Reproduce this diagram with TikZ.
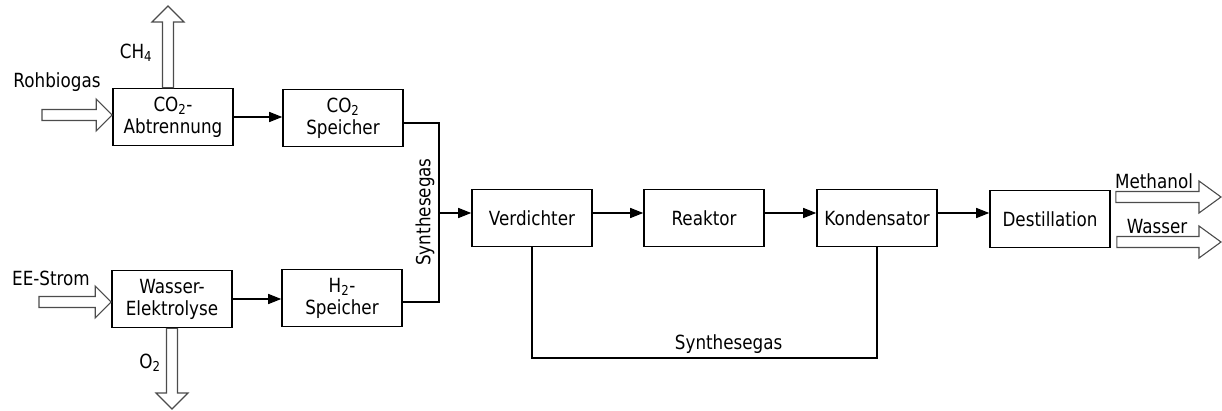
\documentclass[tikz,border=0pt]{standalone}
\usepackage{fontspec}
\setmainfont{DejaVu Sans}[FakeStretch=0.86]
\usetikzlibrary{arrows.meta,calc}
\tikzset{blk/.style={draw,line width=1.6pt,minimum width=120pt,minimum height=57pt,inner sep=0pt,align=center},
 wire/.style={line width=1.3pt},arr/.style={wire,-{Triangle[length=13pt,width=10pt]}},
 fat/.style={draw=black!70,line width=1.1pt,fill=white,line join=miter},
 every node/.style={font=\fontsize{19.5}{22}\selectfont}}
% hollow block arrow from #2 to #3, #1 = head length
\newcommand{\fatarrow}[3][16pt]{\path (#2) coordinate (fa) (#3) coordinate (fb) ($(fb)!#1!(fa)$) coordinate (fc);
 \draw[fat] ($(fa)!5.5pt!90:(fb)$)--($(fc)!5.5pt!90:(fb)$)--($(fc)!16pt!90:(fb)$)--(fb)--($(fc)!16pt!-90:(fb)$)--($(fc)!5.5pt!-90:(fb)$)--($(fa)!5.5pt!-90:(fb)$)--cycle;}
\begin{document}
\begin{tikzpicture}[x=1pt,y=-1pt]
\useasboundingbox (0,0) rectangle (1222,410);
% blocks
\node[blk] (ab) at (173,117) {CO\textsubscript{2}-\\Abtrennung};\node[blk] (cs) at (343,118) {CO\textsubscript{2}\\Speicher};
\node[blk] (we) at (172,299) {Wasser-\\Elektrolyse};\node[blk] (hs) at (342,298) {H\textsubscript{2}-\\Speicher};
\node[blk] (vd) at (532,218) {Verdichter};\node[blk] (rk) at (704,218) {Reaktor};
\node[blk] (kd) at (877,218) {Kondensator};\node[blk] (ds) at (1050,219) {Destillation};
% streams in and out
\coordinate (rohin) at (42,115);\coordinate (ch4out) at (168,6);\coordinate (eein) at (39,302);\coordinate (o2out) at (172,409);
\coordinate (meout) at (1221,197);\coordinate (wout) at (1221,242);
\coordinate (mein) at ($(ds.east|-meout)+(5,0)$);\coordinate (win) at ($(ds.east|-wout)+(6,0)$);
\fatarrow{rohin}{ab.west|-rohin}\fatarrow{ab.north-|ch4out}{ch4out}
\fatarrow{eein}{we.west|-eein}\fatarrow{we.south-|o2out}{o2out}
\fatarrow[22pt]{mein}{meout}\fatarrow[22pt]{win}{wout}
\node (rb) at (57,82) {Rohbiogas};\node (ch) at (136,53) {CH\textsubscript{4}};
\node (ee) at (51,278) {EE-Strom};\node (o2) at (150,363) {O\textsubscript{2}};
\node (me) at (1154,181) {Methanol};\node (wa) at (1157,227) {Wasser};
% connectors
\draw[arr] (ab.east)--(ab.east-|cs.west);\draw[arr] (we.east)--(we.east-|hs.west);
\coordinate (sj) at (439,213);
\draw[wire] ([yshift=-5pt]cs.east) -| (sj) |- ([yshift=-4pt]hs.east);
\node[rotate=90] (sg) at (425,212) {Synthesegas};
\draw[arr] (sj)--(sj-|vd.west);\draw[arr] (vd.east|-sj)--(rk.west|-sj);
\draw[arr] (rk.east|-sj)--(kd.west|-sj);\draw[arr] (kd.east|-sj)--(ds.west|-sj);
\coordinate (fb) at (0,358);
\draw[wire] (vd.south)--(vd.south|-fb)--node[pos=.57,above] (sg2) {Synthesegas}(kd.south|-fb)--(kd.south);
\end{tikzpicture}
\end{document}
